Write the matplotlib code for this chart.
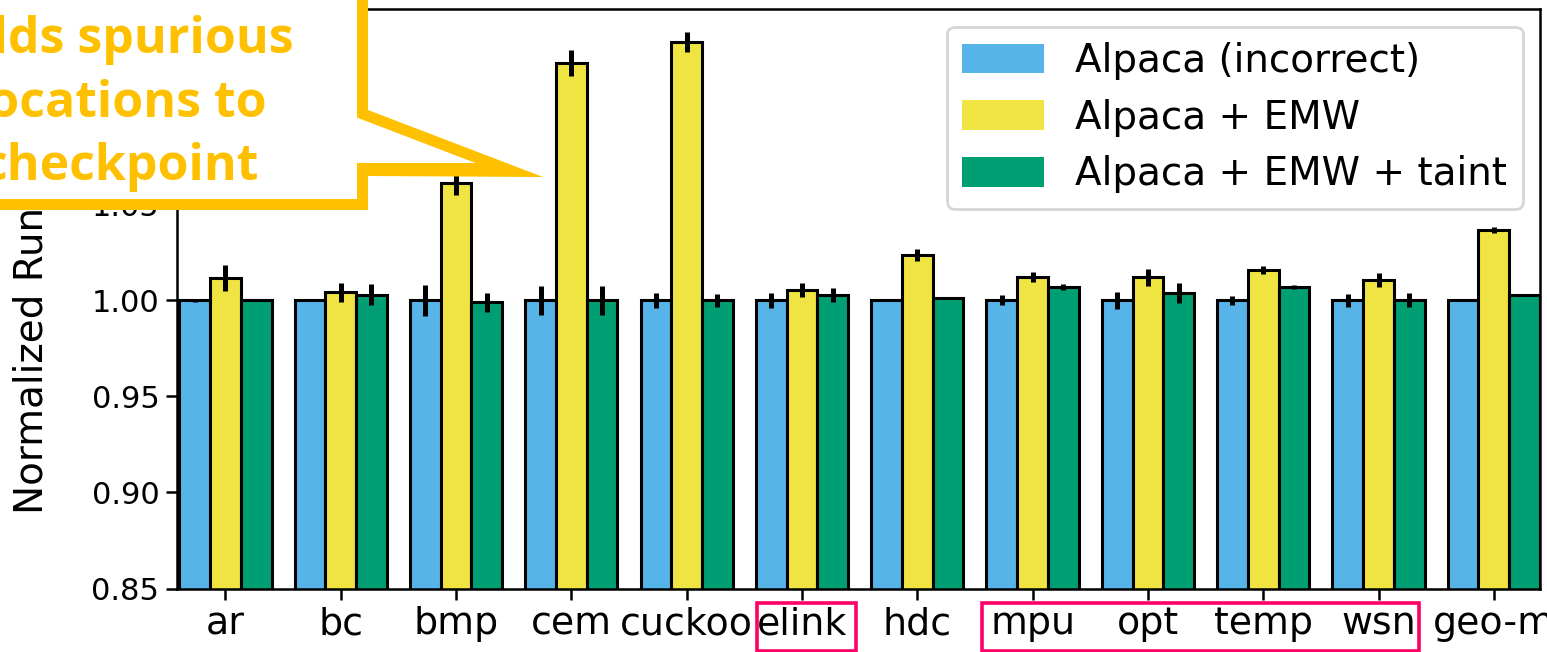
import matplotlib
matplotlib.use("Agg")
import matplotlib.pyplot as plt
import numpy as np
from matplotlib.patches import Polygon, Rectangle, Patch

# ---------------- data ----------------
benchmarks = ["ar", "bc", "bmp", "cem", "cuckoo", "elink", "hdc",
              "mpu", "opt", "temp", "wsn", "geo-m"]
series_names = ["Alpaca (incorrect)", "Alpaca + EMW", "Alpaca + EMW + taint"]

alpaca = [1.000, 1.000, 1.000, 1.000, 1.000, 1.000, 1.000,
          1.000, 1.000, 1.000, 1.000, 1.000]
alpaca_err = [0.0008, 0.0000, 0.0080, 0.0078, 0.0040, 0.0037, 0.0005,
              0.0026, 0.0044, 0.0023, 0.0036, 0.0005]

emw = [1.0117, 1.0042, 1.0612, 1.1237, 1.1346, 1.0055, 1.0237,
       1.0122, 1.0122, 1.0159, 1.0107, 1.0367]
emw_err = [0.0068, 0.0050, 0.0065, 0.0070, 0.0050, 0.0037, 0.0030,
           0.0026, 0.0044, 0.0023, 0.0036, 0.0015]

taint = [1.0000, 1.0029, 0.9990, 1.0000, 1.0000, 1.0029, 1.0013,
         1.0070, 1.0039, 1.0070, 1.0003, 1.0029]
taint_err = [0.0005, 0.0055, 0.0050, 0.0075, 0.0035, 0.0037, 0.0007,
             0.0018, 0.0050, 0.0010, 0.0036, 0.0000]

y_ticks = [0.85, 0.90, 0.95, 1.00, 1.05, 1.10, 1.15]
colors = ["#56B4E9", "#F0E442", "#009E73"]

callout_lines = ["adds spurious", "locations to", "checkpoint"]
ylabel_text = "Normalized Runtime"

# ---------------- figure ----------------
W, H = 1547, 652
fig = plt.figure(figsize=(W / 100, H / 100), dpi=100)
ax = fig.add_axes([177 / W, 1 - 588.5 / H, (1540 - 177) / W, (588.5 - 9) / H])

x = np.arange(len(benchmarks))
w = 0.8 / 3
all_vals = [alpaca, emw, taint]
all_errs = [alpaca_err, emw_err, taint_err]
for i, (vals, errs) in enumerate(zip(all_vals, all_errs)):
    ax.bar(x + (i - 1) * w, vals, w, color=colors[i], edgecolor="black",
           linewidth=2.2, yerr=errs,
           error_kw=dict(elinewidth=3.6, ecolor="black", capsize=0),
           zorder=2)

ax.set_xlim(-0.42, 11.40)
ax.set_ylim(0.85, 1.1518)
ax.set_yticks(y_ticks)
ax.set_yticklabels([f"{t:.2f}" for t in y_ticks])
ax.set_xticks(x)
ax.set_xticklabels(benchmarks)
ax.tick_params(axis="x", labelsize=27.3, length=7.7, width=1.8, pad=5)
ax.tick_params(axis="y", labelsize=22, length=7.7, width=1.8, pad=5)
for sp in ax.spines.values():
    sp.set_linewidth(1.8)

handles = [Patch(facecolor=c, edgecolor="none", label=n)
           for c, n in zip(colors, series_names)]
leg = ax.legend(handles=handles, loc="upper right", fontsize=28,
                labelspacing=0.48, handlelength=2.1, handleheight=0.8,
                borderaxespad=0.45)
leg.get_frame().set_linewidth(2.0)

# y label (partly covered by the callout)
fig.text(32 / W, 1 - 514 / H, ylabel_text, rotation=90, ha="center",
         va="bottom", fontsize=28, zorder=1)


def px(pts):
    return [(a / W, 1 - b / H) for a, b in pts]


# callout shape
outer = [(-40, -40), (368, -40), (368, 110), (543, 177), (368, 176),
         (368, 210), (-40, 210)]
inner = [(-40, -40), (357, -40), (357, 117.6), (475.5, 163), (357, 163),
         (357, 199), (-40, 199)]
fig.patches.append(Polygon(px(outer), closed=True, facecolor="#FFC000",
                           edgecolor="none", transform=fig.transFigure,
                           zorder=10))
fig.patches.append(Polygon(px(inner), closed=True, facecolor="white",
                           edgecolor="none", transform=fig.transFigure,
                           zorder=11))
for line, base in zip(callout_lines, [53, 117, 180]):
    fig.text(120 / W, 1 - base / H, line, ha="center", va="baseline",
             fontsize=36, fontweight="bold", family="Open Sans",
             color="#FFC000", zorder=12)

# highlight boxes around tick labels
for (x0, y0, x1, y1) in [(757, 603, 856, 651), (982, 603, 1419, 651)]:
    fig.patches.append(Rectangle((x0 / W, 1 - y1 / H), (x1 - x0) / W,
                                 (y1 - y0) / H, fill=False,
                                 edgecolor="#FF0066", linewidth=2.6,
                                 transform=fig.transFigure, zorder=12))

fig.savefig("out.png", dpi=100)
